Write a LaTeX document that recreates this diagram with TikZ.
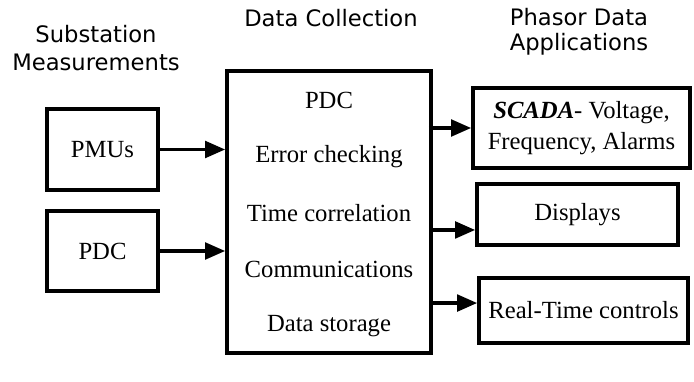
\documentclass[tikz,border=0pt]{standalone}
\usepackage{fontspec}
\setmainfont{Liberation Serif}
\setsansfont{DejaVu Sans}
\usetikzlibrary{arrows.meta}
\tikzset{
  blk/.style={draw, line width=2.8pt, align=center, inner sep=0pt,
    font=\fontsize{18.5}{23}\selectfont},
  hdr/.style={align=center, font=\sffamily\fontsize{17}{#1}\selectfont},
  hdr/.default=18.75,
  item/.style={font=\fontsize{18.5}{23}\selectfont},
  arr/.style={line width=2.4pt, -{Triangle[length=15pt,width=12.5pt]}}
}
\begin{document}
\begin{tikzpicture}[x=0.75pt, y=-0.75pt]
  \useasboundingbox (0,0) rectangle (694,382);
  % column headings
  \node[hdr=21] (hsub) at (96,48) {Substation\\Measurements};
  \node[hdr] (hcol) at (331,18) {Data Collection};
  \node[hdr] (happ) at (579,32) {Phasor Data\\Applications};
  % inputs
  \node[blk, minimum width=83pt, minimum height=61pt] (pmu) at (102.5,149.5) {PMUs};
  \node[blk, minimum width=83pt, minimum height=60pt] (pdcin) at (102.5,251) {PDC};
  % collection box
  \node[blk, minimum width=153pt, minimum height=211.5pt] (coll) at (329,212) {};
  \foreach \t [count=\i] in {PDC, Error checking, Time correlation, Communications, Data storage}
    \node[item] (item\i) at (329, 43.5+56.5*\i) {\t};
  % outputs
  \node[blk, minimum width=162.75pt, minimum height=60pt] (scada) at (581.5,128)
    {\textbf{\textit{SCADA}}- Voltage,\\Frequency, Alarms};
  \node[blk, minimum width=150.75pt, minimum height=45.75pt] (disp) at (577.5,214.5) {Displays};
  \node[blk, minimum width=156.75pt, minimum height=48.75pt] (rtc) at (583.5,310.5) {Real-Time controls};
  % connectors
  \draw[arr] (pmu.east) -- (pmu.east -| coll.west);
  \draw[arr] (pdcin.east) -- (pdcin.east -| coll.west);
  \draw[arr] ([xshift=-3pt]scada.west -| coll.east) -- (scada.west);
  \draw[arr] ([yshift=-11.6pt]disp.west -| coll.east) -- ([yshift=-11.6pt]disp.west);
  \draw[arr] ([yshift=5.6pt]rtc.west -| coll.east) -- ([yshift=5.6pt]rtc.west);
\end{tikzpicture}
\end{document}
